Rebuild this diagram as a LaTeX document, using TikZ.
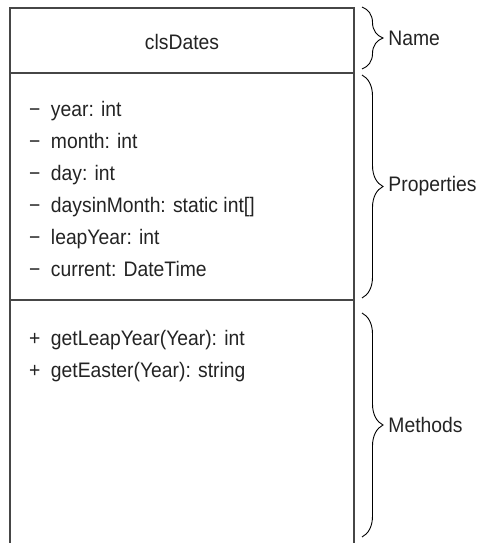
\documentclass[tikz,border=0pt]{standalone}
\usepackage{fontspec}
\setmainfont{Liberation Sans}[FakeStretch=0.92]
\usepackage{tikz}
\usetikzlibrary{positioning, decorations.pathreplacing}
\definecolor{boxgray}{RGB}{70,70,70}
\definecolor{inkgray}{RGB}{35,35,35}
\newcommand{\umlfont}{\fontsize{21}{25}\selectfont}

\begin{document}
\begin{tikzpicture}[
    x=1pt, y=-1pt,
    compart/.style={rectangle, draw=boxgray, line width=1.3pt, minimum width=344pt, inner sep=0pt, outer sep=0pt, font=\umlfont, text=inkgray},
    member/.style={anchor=base west, inner sep=0pt, font=\umlfont, text=inkgray},
    brace/.style={decorate, decoration={brace, amplitude=21pt}, draw=black, line width=0.9pt},
    tag/.style={midway, right=26pt, inner sep=0pt, font=\umlfont, text=inkgray}
]
\path[use as bounding box, clip] (0,0) rectangle (479,543);

% Klasse: drei Abschnitte
\node[compart, minimum height=65pt, text height=19pt, text depth=0pt] (namebox) at (182,40.5) {clsDates};
\node[compart, minimum height=227pt, below=0pt of namebox] (propbox) {};
\node[compart, minimum height=260pt, below=0pt of propbox] (methbox) {};

% Eigenschaften
\node[member] (yr) at (29,116) {−\enspace year: int};
\node[member] (mon) at (29,148) {−\enspace month: int};
\node[member] (dy) at (29,180) {−\enspace day: int};
\node[member] (dim) at (29,212) {−\enspace daysinMonth: static int[]};
\node[member] (leap) at (29,244) {−\enspace leapYear: int};
\node[member] (cur) at (29,276) {−\enspace current: DateTime};

% Methoden
\node[member] (getleap) at (29,345) {+\enspace getLeapYear(Year): int};
\node[member] (geteaster) at (29,377) {+\enspace getEaster(Year): string};

% Klammern
\coordinate (nameTop) at ([xshift=8pt, yshift=1pt]namebox.north east);
\coordinate (nameBot) at ([xshift=8pt, yshift=4pt]namebox.south east);
\coordinate (propTop) at ([xshift=8pt, yshift=-2pt]propbox.north east);
\coordinate (propBot) at ([xshift=8pt, yshift=2pt]propbox.south east);
\coordinate (methTop) at ([xshift=8pt, yshift=-13pt]methbox.north east);
\coordinate (methBot) at (362,537);

\draw[brace] (nameTop) -- node[tag] (lblname) {Name} (nameBot);
\draw[brace] (propTop) -- node[tag] (lblprop) {Properties} (propBot);
\draw[brace] (methTop) -- node[tag] (lblmeth) {Methods} (methBot);

\end{tikzpicture}
\end{document}
